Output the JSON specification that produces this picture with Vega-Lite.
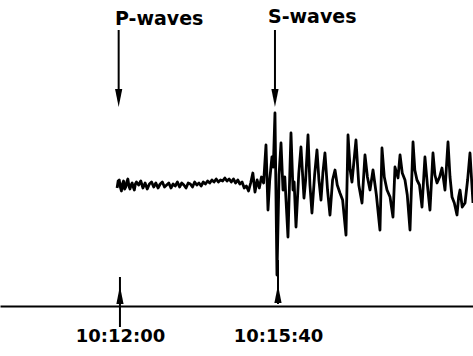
{
  "$schema": "https://vega.github.io/schema/vega-lite/v6.json",
  "width": 473,
  "height": 306,
  "autosize": {"type": "none"},
  "padding": {"left": 0, "top": 0, "right": 0, "bottom": 50},
  "background": "white",
  "config": {"view": {"stroke": null}},
  "datasets": {
    "trace": [
      {"t": 716, "amp": -3}, {"t": 717.5, "amp": 4}, {"t": 719, "amp": 5}, {"t": 720.5, "amp": -2}, {"t": 722, "amp": -6}, {"t": 723.5, "amp": 1}, {"t": 725, "amp": 4},
      {"t": 726.5, "amp": -4}, {"t": 728, "amp": -2}, {"t": 729.5, "amp": 3}, {"t": 731, "amp": 6}, {"t": 732.5, "amp": -1}, {"t": 734, "amp": -4}, {"t": 735.5, "amp": 0}, {"t": 737, "amp": 2},
      {"t": 738.5, "amp": -2}, {"t": 740, "amp": -5}, {"t": 741.5, "amp": 1}, {"t": 743, "amp": 3}, {"t": 746, "amp": 0}, {"t": 749, "amp": 4},
      {"t": 752, "amp": -3}, {"t": 755, "amp": 2}, {"t": 758, "amp": -4}, {"t": 761, "amp": 1},
      {"t": 764, "amp": 3}, {"t": 767, "amp": -2}, {"t": 770, "amp": 2}, {"t": 773, "amp": -3},
      {"t": 776, "amp": 1}, {"t": 779, "amp": 3}, {"t": 782, "amp": -2}, {"t": 785, "amp": 0},
      {"t": 788, "amp": 2}, {"t": 791, "amp": -3}, {"t": 794, "amp": 1}, {"t": 797, "amp": -1},
      {"t": 800, "amp": 3}, {"t": 803, "amp": -2}, {"t": 806, "amp": 2}, {"t": 809, "amp": 0},
      {"t": 812, "amp": -3}, {"t": 815, "amp": 2}, {"t": 818, "amp": 1}, {"t": 821, "amp": -2},
      {"t": 824, "amp": 3}, {"t": 827, "amp": 0}, {"t": 830, "amp": 2}, {"t": 833, "amp": -1},
      {"t": 836, "amp": 3}, {"t": 839, "amp": 1}, {"t": 842, "amp": 4}, {"t": 845, "amp": 2},
      {"t": 848, "amp": 5}, {"t": 851, "amp": 3}, {"t": 854, "amp": 6}, {"t": 857, "amp": 3},
      {"t": 860, "amp": 5}, {"t": 863, "amp": 4}, {"t": 866, "amp": 7}, {"t": 869, "amp": 4},
      {"t": 872, "amp": 6}, {"t": 875, "amp": 3}, {"t": 878, "amp": 6}, {"t": 881, "amp": 2},
      {"t": 884, "amp": 5}, {"t": 887, "amp": 1}, {"t": 890, "amp": 3}, {"t": 893, "amp": -3},
      {"t": 896, "amp": -1}, {"t": 899, "amp": -6}, {"t": 902, "amp": 2}, {"t": 905, "amp": 12},
      {"t": 908, "amp": -7}, {"t": 911, "amp": 5}, {"t": 914, "amp": -3}, {"t": 917, "amp": 8},
      {"t": 920, "amp": 2},
      {"t": 923.3, "amp": 40}, {"t": 926.1, "amp": -25}, {"t": 928.5, "amp": 5}, {"t": 931.6, "amp": 28}, {"t": 933.5, "amp": 18}, {"t": 935.8, "amp": 72},
      {"t": 938.6, "amp": -90}, {"t": 941.5, "amp": 10}, {"t": 944.2, "amp": 42}, {"t": 947.0, "amp": -5}, {"t": 949.5, "amp": 8}, {"t": 953.9, "amp": -52},
      {"t": 958.1, "amp": 52}, {"t": 960.9, "amp": -5}, {"t": 962.5, "amp": 3}, {"t": 965.1, "amp": -42}, {"t": 969.0, "amp": 12}, {"t": 972.0, "amp": 38},
      {"t": 976.2, "amp": -13}, {"t": 978.5, "amp": 5}, {"t": 981.8, "amp": 50}, {"t": 984.5, "amp": 0}, {"t": 987.3, "amp": -28}, {"t": 991.0, "amp": 10}, {"t": 994.3, "amp": 35},
      {"t": 997.0, "amp": 5}, {"t": 999.9, "amp": -15}, {"t": 1002.5, "amp": 12}, {"t": 1005.4, "amp": 32}, {"t": 1009.0, "amp": -5}, {"t": 1012.4, "amp": -30}, {"t": 1016.0, "amp": 5}, {"t": 1019.4, "amp": 15},
      {"t": 1022.5, "amp": 0}, {"t": 1026.3, "amp": -8}, {"t": 1030.0, "amp": -15}, {"t": 1034.7, "amp": -50}, {"t": 1037.5, "amp": 50}, {"t": 1040.5, "amp": 15}, {"t": 1043.0, "amp": 3},
      {"t": 1048.6, "amp": 45}, {"t": 1052.5, "amp": 0}, {"t": 1057.0, "amp": -18}, {"t": 1061.1, "amp": 30}, {"t": 1064.5, "amp": 8}, {"t": 1068.1, "amp": -5},
      {"t": 1072.3, "amp": 15}, {"t": 1077.0, "amp": -10}, {"t": 1082.0, "amp": -45}, {"t": 1084.8, "amp": 37}, {"t": 1088.0, "amp": 8}, {"t": 1091.8, "amp": -5},
      {"t": 1096.0, "amp": -12}, {"t": 1100.1, "amp": -32}, {"t": 1102.9, "amp": 18}, {"t": 1107.1, "amp": 7}, {"t": 1109.9, "amp": 30},
      {"t": 1113.0, "amp": 12}, {"t": 1116.8, "amp": 5}, {"t": 1120.0, "amp": -10}, {"t": 1123.8, "amp": -45}, {"t": 1128.0, "amp": 43}, {"t": 1130.5, "amp": 15}, {"t": 1133.5, "amp": 5},
      {"t": 1137.0, "amp": 0}, {"t": 1140.5, "amp": -22}, {"t": 1144.6, "amp": 28}, {"t": 1148.0, "amp": 0}, {"t": 1151.6, "amp": -25}, {"t": 1155.8, "amp": 32},
      {"t": 1158.5, "amp": 10}, {"t": 1161.4, "amp": 2}, {"t": 1165.0, "amp": 8}, {"t": 1168.3, "amp": 17}, {"t": 1172.5, "amp": -5}, {"t": 1176.7, "amp": 43},
      {"t": 1179.5, "amp": 8}, {"t": 1182.3, "amp": -12}, {"t": 1185.5, "amp": -18}, {"t": 1189.2, "amp": -30}, {"t": 1191.5, "amp": -12}, {"t": 1193.4, "amp": -5}, {"t": 1196.5, "amp": -22}, {"t": 1200.4, "amp": -18},
      {"t": 1204.0, "amp": 5}, {"t": 1207.3, "amp": 32}, {"t": 1211.5, "amp": -18}
    ],
    "shafts": [
      {"t": 718.2, "top": 155, "bottom": 90},
      {"t": 935.8, "top": 155, "bottom": 90},
      {"t": 720, "top": -92, "bottom": -142},
      {"t": 940, "top": -75, "bottom": -119}
    ],
    "heads": [
      {"t": 718.2, "amp": 87, "dir": "down"},
      {"t": 935.8, "amp": 87, "dir": "down"},
      {"t": 720, "amp": -110, "dir": "up"},
      {"t": 940, "amp": -109, "dir": "up"}
    ],
    "labels": [
      {"t": 713.0, "amp": 160, "label": "P-waves"},
      {"t": 926.1, "amp": 162, "label": "S-waves"}
    ]
  },
  "layer": [
    {
      "data": {"name": "trace"},
      "mark": {"type": "line", "color": "black", "strokeWidth": 2.8, "strokeJoin": "round"},
      "encoding": {
        "x": {
          "field": "t", "type": "quantitative",
          "scale": {"domain": [553, 1211.5], "nice": false, "zero": false},
          "axis": {
            "values": [720, 940],
            "labelExpr": "timeFormat(datetime(2000, 0, 1, 10, 0, datum.value), '%H:%M:%S')",
            "title": null, "grid": false, "ticks": false, "tickSize": 0,
            "domainColor": "black", "domainWidth": 2,
            "labelFont": "DejaVu Sans", "labelFontWeight": "bold", "labelFontSize": 18,
            "labelColor": "black", "labelPadding": 21, "labelDx": 3, "labelOverlap": false, "labelFlush": false
          }
        },
        "y": {"field": "amp", "type": "quantitative", "scale": {"domain": [-121, 185], "nice": false, "zero": false}, "axis": null}
      }
    },
    {
      "data": {"name": "shafts"},
      "mark": {"type": "rule", "color": "black", "strokeWidth": 2},
      "encoding": {
        "x": {"field": "t", "type": "quantitative"},
        "y": {"field": "top", "type": "quantitative"},
        "y2": {"field": "bottom"}
      }
    },
    {
      "data": {"name": "heads"},
      "mark": {"type": "point", "filled": true, "color": "black", "size": 324, "opacity": 1},
      "encoding": {
        "x": {"field": "t", "type": "quantitative"},
        "y": {"field": "amp", "type": "quantitative"},
        "shape": {"field": "dir", "type": "nominal", "scale": {"domain": ["down", "up"], "range": ["M-0.4,-1L0.4,-1L0,1Z", "M-0.4,1L0.4,1L0,-1Z"]}, "legend": null}
      }
    },
    {
      "data": {"name": "labels"},
      "mark": {"type": "text", "align": "left", "baseline": "alphabetic", "font": "DejaVu Sans", "fontWeight": "bold", "fontSize": 19, "color": "black"},
      "encoding": {
        "x": {"field": "t", "type": "quantitative"},
        "y": {"field": "amp", "type": "quantitative"},
        "text": {"field": "label"}
      }
    }
  ]
}
